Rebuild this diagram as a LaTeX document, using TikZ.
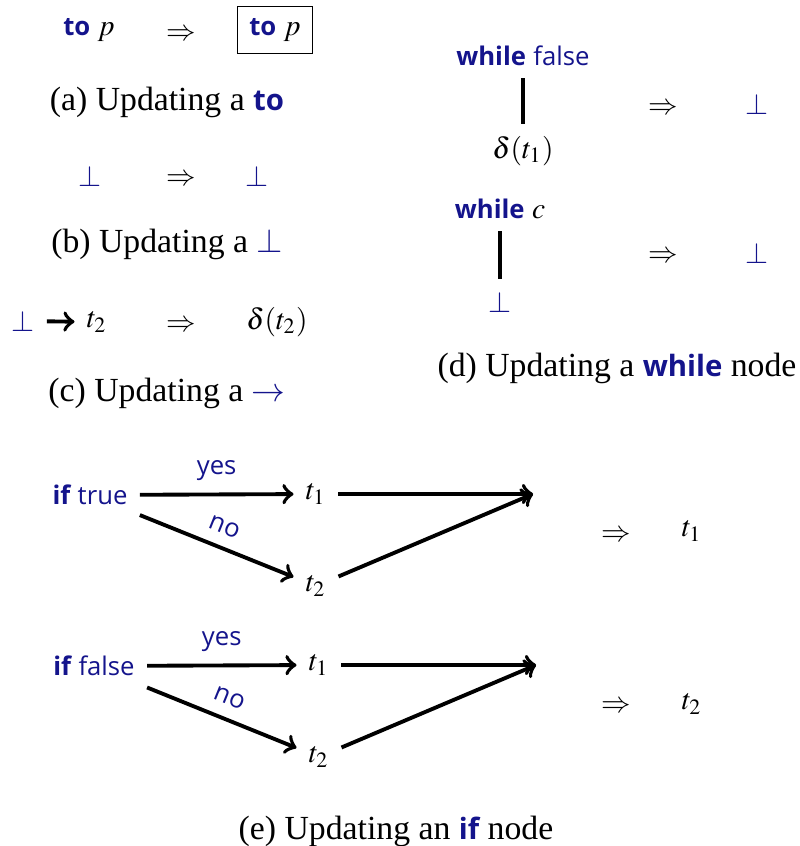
\documentclass[tikz,border=0pt]{standalone}
\usepackage{mathptmx}
\usepackage{fontspec}
\setmainfont{Liberation Serif}
\newfontfamily\kwfont{Open Sans}[Scale=0.87]
\usepackage{xcolor}
\usetikzlibrary{positioning}

\definecolor{kwblue}{RGB}{20,20,140}
\newcommand{\kw}[1]{{\kwfont\bfseries\color{kwblue}#1}}
\newcommand{\kwv}[1]{{\kwfont\color{kwblue}#1}}
\newcommand{\botb}{{\color{kwblue}$\bot$}}

\begin{document}
\begin{tikzpicture}[auto,
		every node/.style={font=\fontsize{8.4}{10}\selectfont},
		caption/.style={font=\fontsize{9.6}{11.5}\selectfont},
		edge/.style={->, line width=1.1pt},
		link/.style={line width=1.1pt}]
		\useasboundingbox (0,0) rectangle (8,-8.46);
		
		% (a) to
		\node (toA) at (0.89,-0.30) {\kw{to} $p$};
		\node (impA) at (1.81,-0.35) {$\Rightarrow$};
		\node[draw] (toB) at (2.75,-0.30) {\kw{to} $p$};
		\node[caption] (capA) at (1.67,-1.02) {(a) Updating a \kw{to}};
		
		% (b) bottom
		\node (botA) at (0.895,-1.76) {\botb};
		\node (impB) at (1.81,-1.80) {$\Rightarrow$};
		\node (botB) at (2.57,-1.76) {\botb};
		\node[caption] (capB) at (1.67,-2.44) {(b) Updating a \botb};
		
		% (c) fleche
		\node (botC) at (0.23,-3.21) {\botb};
		\node (tC) at (0.97,-3.22) {$t_2$};
		\node (impC) at (1.81,-3.26) {$\Rightarrow$};
		\node (dC) at (2.77,-3.22) {$\delta(t_2)$};
		\node[caption] (capC) at (1.67,-3.93) {(c) Updating a {\color{kwblue}$\rightarrow$}};
		\draw[edge] (botC) -- (tC);
		
		% (d) while
		\node (wF) at (5.23,-0.56) {\kw{while} \kwv{false}};
		\node (dT) at (5.23,-1.51) {$\delta(t_1)$};
		\node (impD1) at (6.63,-1.09) {$\Rightarrow$};
		\node (botD1) at (7.57,-1.04) {\botb};
		\node (wC) at (5.00,-2.09) {\kw{while} $c$};
		\node (botD2) at (5.00,-3.02) {\botb};
		\node (impD2) at (6.63,-2.57) {$\Rightarrow$};
		\node (botD3) at (7.57,-2.53) {\botb};
		\node[caption] (capD) at (6.17,-3.68) {(d) Updating a \kw{while} node};
		\draw[link] (wF) -- (dT);
		\draw[link] (wC) -- (botD2);
		
		% (e) if true
		\node (ifT) at (0.90,-4.95) {\kw{if} \kwv{true}};
		\node (t1A) at (3.16,-4.94) {$t_1$};
		\node[below of=t1A, node distance=0.92cm] (t2A) {$t_2$};
		\coordinate (joinA) at (5.33,-4.94);
		\node (impE1) at (6.16,-5.36) {$\Rightarrow$};
		\node (resE1) at (6.92,-5.31) {$t_1$};
		\draw[edge] (ifT) -- node {\kwv{yes}} (t1A);
		\draw[edge] (ifT) -- node[sloped] {\kwv{no}} (t2A);
		\draw[edge] (t1A) -- (joinA);
		\draw[edge] (t2A) -- (joinA);
		
		% (e) if false
		\node (ifF) at (0.94,-6.66) {\kw{if} \kwv{false}};
		\node (t1B) at (3.19,-6.65) {$t_1$};
		\node[below of=t1B, node distance=0.92cm] (t2B) {$t_2$};
		\coordinate (joinB) at (5.36,-6.65);
		\node (impE2) at (6.16,-7.07) {$\Rightarrow$};
		\node (resE2) at (6.92,-7.04) {$t_2$};
		\draw[edge] (ifF) -- node {\kwv{yes}} (t1B);
		\draw[edge] (ifF) -- node[sloped] {\kwv{no}} (t2B);
		\draw[edge] (t1B) -- (joinB);
		\draw[edge] (t2B) -- (joinB);
		
		\node[caption] (capE) at (3.96,-8.31) {(e) Updating an \kw{if} node};
		
	\end{tikzpicture}
\end{document}
